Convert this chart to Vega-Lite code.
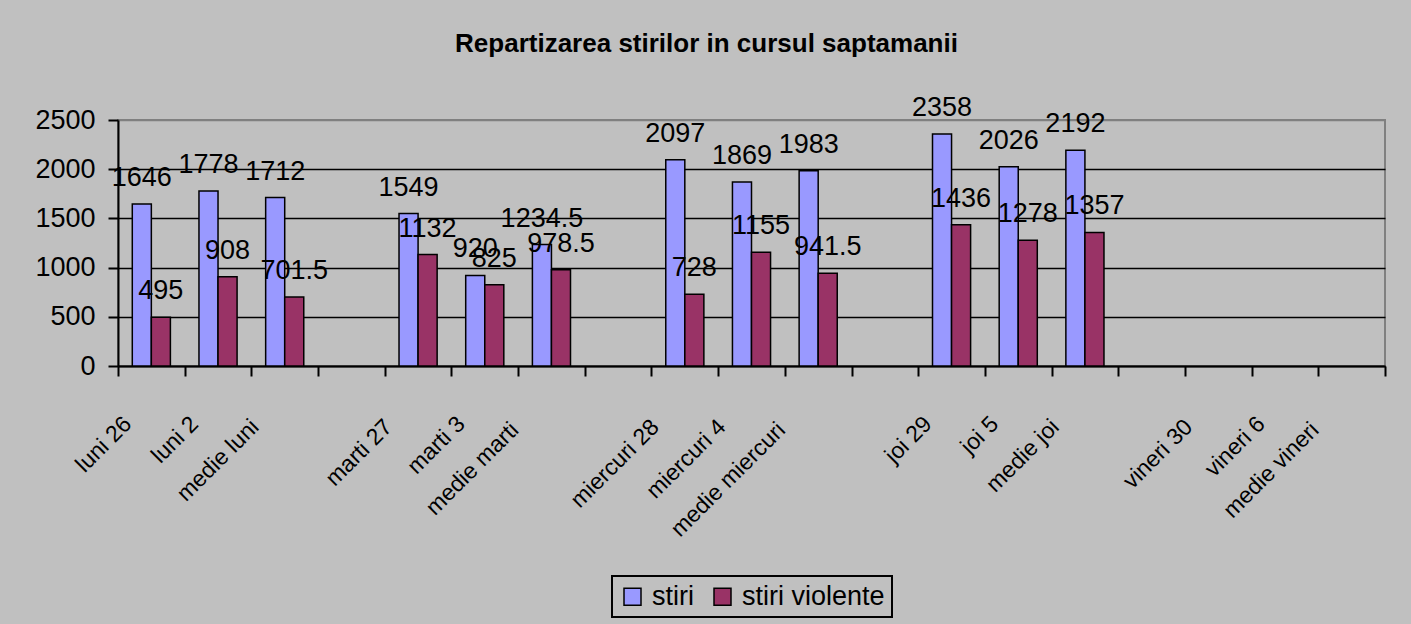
{
  "$schema": "https://vega.github.io/schema/vega-lite/v6.json",
  "width": 1267,
  "height": 246,
  "autosize": {"type": "none"},
  "padding": {"left": 118, "top": 120, "right": 26, "bottom": 258},
  "background": "#C0C0C0",
  "config": {
    "view": {"stroke": "#808080", "strokeWidth": 2, "fill": "#C0C0C0"},
    "font": "Liberation Sans, Arial, sans-serif",
    "legend": {"strokeWidth": 2}
  },
  "title": {
    "text": "Repartizarea stirilor in cursul saptamanii",
    "font": "Liberation Sans, Arial",
    "fontSize": 26,
    "fontWeight": "bold",
    "color": "black",
    "anchor": "middle",
    "dx": -45,
    "offset": 37
  },
  "data": {
    "values": [
      {"day": "luni 26", "series": "stiri", "value": 1646},
      {"day": "luni 26", "series": "stiri violente", "value": 495},
      {"day": "luni 2", "series": "stiri", "value": 1778},
      {"day": "luni 2", "series": "stiri violente", "value": 908},
      {"day": "medie luni", "series": "stiri", "value": 1712},
      {"day": "medie luni", "series": "stiri violente", "value": 701.5},
      {"day": "marti 27", "series": "stiri", "value": 1549},
      {"day": "marti 27", "series": "stiri violente", "value": 1132},
      {"day": "marti 3", "series": "stiri", "value": 920},
      {"day": "marti 3", "series": "stiri violente", "value": 825},
      {"day": "medie marti", "series": "stiri", "value": 1234.5},
      {"day": "medie marti", "series": "stiri violente", "value": 978.5},
      {"day": "miercuri 28", "series": "stiri", "value": 2097},
      {"day": "miercuri 28", "series": "stiri violente", "value": 728},
      {"day": "miercuri 4", "series": "stiri", "value": 1869},
      {"day": "miercuri 4", "series": "stiri violente", "value": 1155},
      {"day": "medie miercuri", "series": "stiri", "value": 1983},
      {"day": "medie miercuri", "series": "stiri violente", "value": 941.5},
      {"day": "joi 29", "series": "stiri", "value": 2358},
      {"day": "joi 29", "series": "stiri violente", "value": 1436},
      {"day": "joi 5", "series": "stiri", "value": 2026},
      {"day": "joi 5", "series": "stiri violente", "value": 1278},
      {"day": "medie joi", "series": "stiri", "value": 2192},
      {"day": "medie joi", "series": "stiri violente", "value": 1357}
    ]
  },
  "encoding": {
    "x": {
      "field": "day",
      "type": "nominal",
      "scale": {
        "domain": ["luni 26", "luni 2", "medie luni", "gap1", "marti 27", "marti 3", "medie marti", "gap2", "miercuri 28", "miercuri 4", "medie miercuri", "gap3", "joi 29", "joi 5", "medie joi", "gap4", "vineri 30", "vineri 6", "medie vineri"],
        "paddingInner": 0,
        "paddingOuter": 0
      },
      "axis": {
        "title": null,
        "labelAngle": -45,
        "labelAlign": "right",
        "labelBaseline": "middle",
        "labelFontSize": 23,
        "labelColor": "black",
        "labelOffset": {
          "condition": [
            {"test": "indexof(['medie marti', 'medie miercuri', 'medie vineri'], datum.value) >= 0", "value": -37},
            {"test": "indexof(['medie luni', 'marti 27', 'miercuri 28', 'miercuri 4', 'medie joi', 'vineri 30'], datum.value) >= 0", "value": -30}
          ],
          "value": -24
        },
        "labelPadding": {
          "condition": [
            {"test": "indexof(['medie marti', 'medie miercuri', 'medie vineri'], datum.value) >= 0", "value": 50},
            {"test": "indexof(['medie luni', 'marti 27', 'miercuri 28', 'miercuri 4', 'medie joi', 'vineri 30'], datum.value) >= 0", "value": 47}
          ],
          "value": 44
        },
        "labelOverlap": false,
        "labelExpr": "indexof(datum.label, 'gap') == 0 ? '' : datum.label",
        "tickSize": 10,
        "tickColor": "black",
        "tickWidth": 2,
        "tickBand": "extent",
        "domainColor": "black",
        "domainWidth": 2,
        "grid": false
      }
    },
    "xOffset": {
      "field": "series",
      "type": "nominal",
      "scale": {"domain": ["stiri", "stiri violente"], "paddingInner": 0, "paddingOuter": 0.75}
    },
    "y": {
      "field": "value",
      "type": "quantitative",
      "scale": {"domain": [0, 2500], "nice": false},
      "axis": {
        "title": null,
        "values": [0, 500, 1000, 1500, 2000, 2500],
        "format": "d",
        "labelFontSize": 27,
        "labelColor": "black",
        "labelPadding": 13,
        "tickSize": 10,
        "tickColor": "black",
        "tickWidth": 2,
        "domainColor": "black",
        "domainWidth": 2,
        "grid": true,
        "gridColor": {"condition": {"test": "datum.value === 2500", "value": "#808080"}, "value": "black"},
        "gridWidth": 1.3
      }
    }
  },
  "layer": [
    {
      "mark": {"type": "bar", "stroke": "black", "strokeWidth": 1.5},
      "encoding": {
        "color": {
          "field": "series",
          "type": "nominal",
          "scale": {"domain": ["stiri", "stiri violente"], "range": ["#9999FF", "#993366"]},
          "legend": {
            "orient": "none",
            "legendX": 494,
            "legendY": 456,
            "direction": "horizontal",
            "title": null,
            "strokeColor": "black",
            "padding": 7,
            "fillColor": "#C0C0C0",
            "symbolType": "square",
            "symbolSize": 289,
            "symbolStrokeColor": "black",
            "symbolStrokeWidth": 1.5,
            "symbolOpacity": 1,
            "labelFontSize": 27,
            "labelColor": "black",
            "labelOffset": 6,
            "columnPadding": 15
          }
        }
      }
    },
    {
      "mark": {"type": "text", "baseline": "alphabetic", "dy": -18, "fontSize": 27, "color": "black"},
      "encoding": {"text": {"field": "value", "type": "nominal"}}
    }
  ]
}
